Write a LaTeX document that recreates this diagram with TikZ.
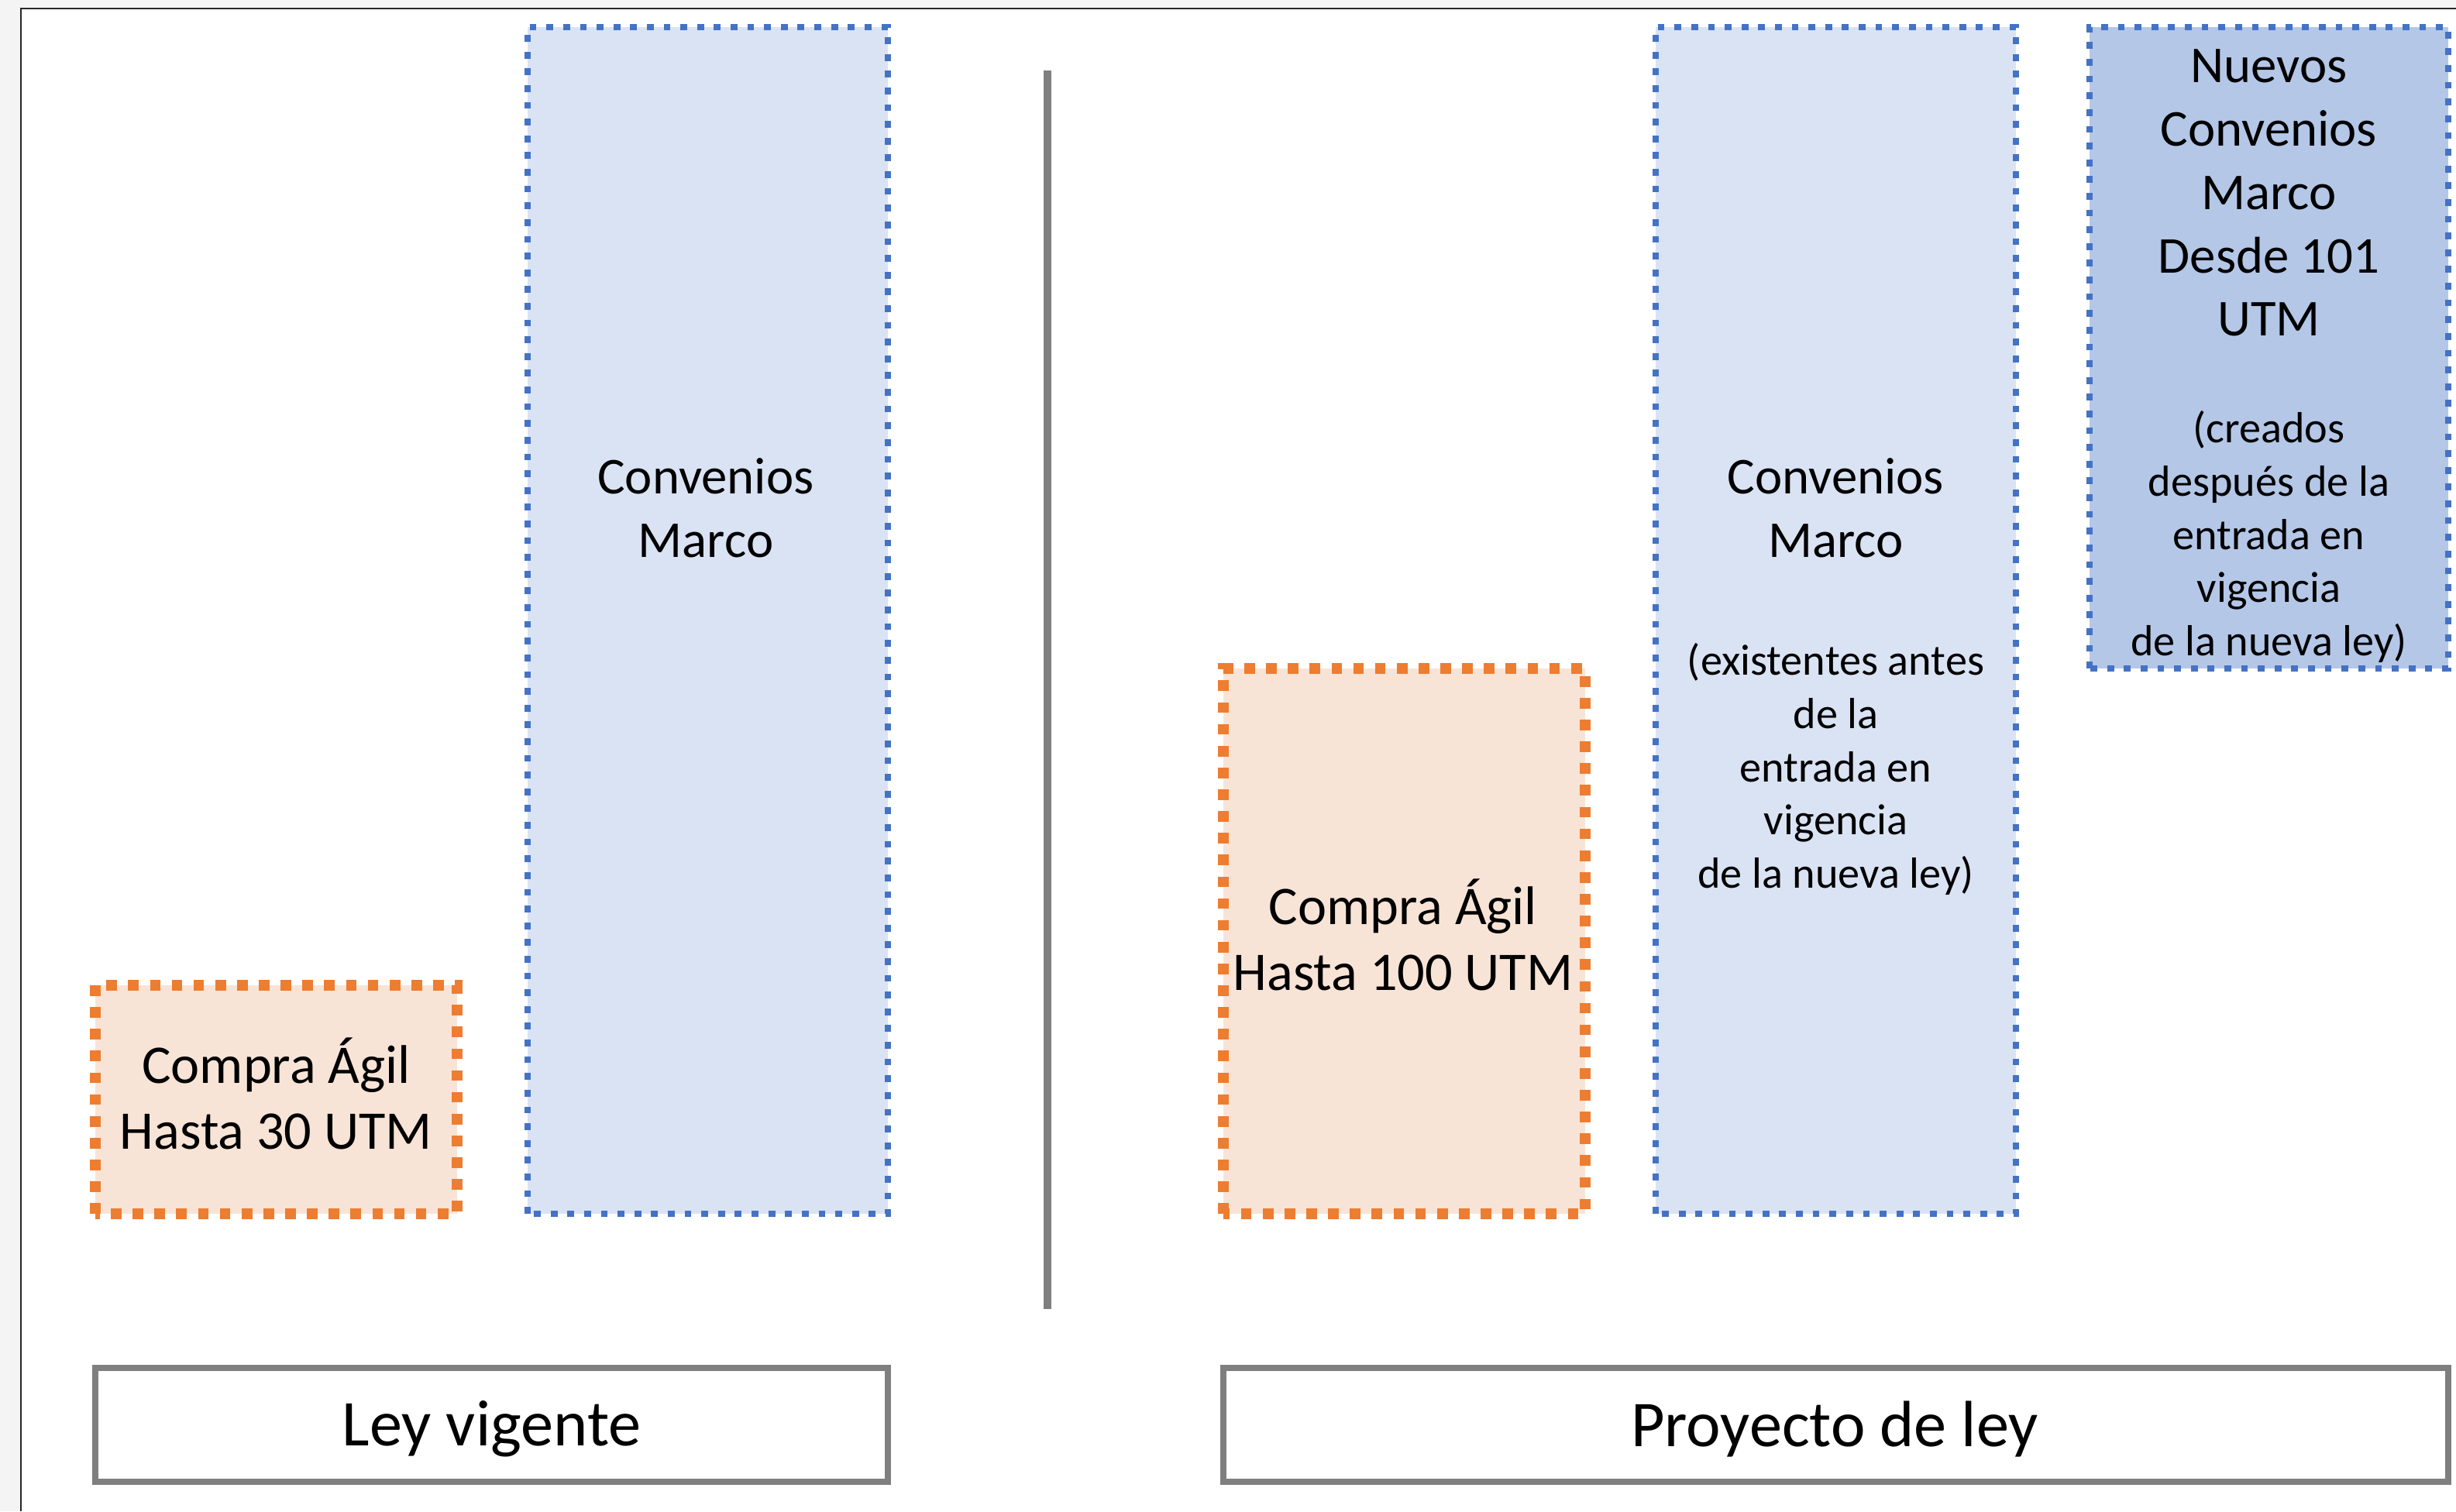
\documentclass[tikz,border=0pt]{standalone}
\usepackage{fontspec}
\setmainfont{Carlito}
\usepackage{tikz}
\usetikzlibrary{calc}
\definecolor{cmblue}{HTML}{4472C4}
\definecolor{cmfill}{HTML}{DAE3F3}
\definecolor{cmdark}{HTML}{B4C7E7}
\definecolor{agil}{HTML}{ED7D31}
\definecolor{agilfill}{HTML}{F8E4D6}
\definecolor{rule}{HTML}{7F7F7F}
\definecolor{page}{HTML}{F4F4F4}
\tikzset{
  cmbox/.style={draw=cmblue, fill=cmfill, line width=2.5pt, dash pattern=on 2.5pt off 3.65pt},
  cmnew/.style={cmbox, fill=cmdark},
  cabox/.style={draw=agil, fill=agilfill, line width=3.9pt, dash pattern=on 3.9pt off 4.1pt},
  leybox/.style={draw=rule, fill=white, line width=2.3pt},
  divider/.style={draw=rule, line width=2.8pt},
  cmtxt/.style={align=center, font=\fontsize{19}{23.3}\selectfont},
  notetxt/.style={align=center, font=\fontsize{16}{19.5}\selectfont},
  catxt/.style={align=center, font=\fontsize{20}{24.4}\selectfont},
  leytxt/.style={font=\fontsize{24}{29}\selectfont}
}

\begin{document}
\begin{tikzpicture}
  \useasboundingbox (0,0) rectangle (31.70,19.51);
  \fill[page] (0,0) rectangle (31.70,19.51);
  \fill[white] (0.27,0) rectangle (31.70,19.40);
  \draw[black!85, line width=0.6pt] (0.27,0) -- (0.27,19.40) -- (31.70,19.40);

  % ley vigente
  \coordinate (CA1a) at (1.23,3.84);  \coordinate (CA1b) at (5.90,6.79);
  \coordinate (CM1a) at (6.81,3.84);  \coordinate (CM1b) at (11.46,19.16);
  \draw[cabox] (CA1a) rectangle (CA1b);
  \draw[cmbox] (CM1a) rectangle (CM1b);
  \node[catxt] (ca1) at (3.565,5.39) {Compra Ágil\\Hasta 30 UTM};
  \node[cmtxt] (cm1) at (9.11,12.95) {Convenios\\Marco};

  % separacion
  \coordinate (Dtop) at (13.52,18.60);
  \coordinate (Dbot) at (13.52,2.61);
  \draw[divider] (Dtop) -- (Dbot);

  % proyecto de ley
  \coordinate (CA2a) at (15.79,3.84); \coordinate (CA2b) at (20.46,10.88);
  \coordinate (CM2a) at (21.37,3.84); \coordinate (CM2b) at (26.02,19.16);
  \coordinate (CM3a) at (26.97,10.88); \coordinate (CM3b) at (31.60,19.16);
  \draw[cabox] (CA2a) rectangle (CA2b);
  \draw[cmbox] (CM2a) rectangle (CM2b);
  \draw[cmnew] (CM3a) rectangle (CM3b);
  \node[catxt] (ca2) at (18.11,7.44) {Compra Ágil\\Hasta 100 UTM};
  \node[cmtxt] (cm2) at (23.695,12.95) {Convenios\\Marco};
  \node[notetxt] (cm2n) at (23.695,9.58) {(existentes antes\\de la\\entrada en\\vigencia\\de la nueva ley)};
  \node[cmtxt] (cm3) at (29.285,17.02) {Nuevos\\Convenios\\Marco\\Desde 101\\UTM};
  \node[notetxt] (cm3n) at (29.285,12.58) {(creados\\después de la\\entrada en\\vigencia\\de la nueva ley)};

  % etiquetas
  \coordinate (L1a) at (1.23,0.38);  \coordinate (L1b) at (11.46,1.85);
  \coordinate (L2a) at (15.79,0.38); \coordinate (L2b) at (31.60,1.85);
  \draw[leybox] (L1a) rectangle (L1b);
  \draw[leybox] (L2a) rectangle (L2b);
  \node[leytxt] (vig) at (6.345,1.06) {Ley vigente};
  \node[leytxt] (pro) at (23.68,1.06) {Proyecto de ley};
\end{tikzpicture}
\end{document}
